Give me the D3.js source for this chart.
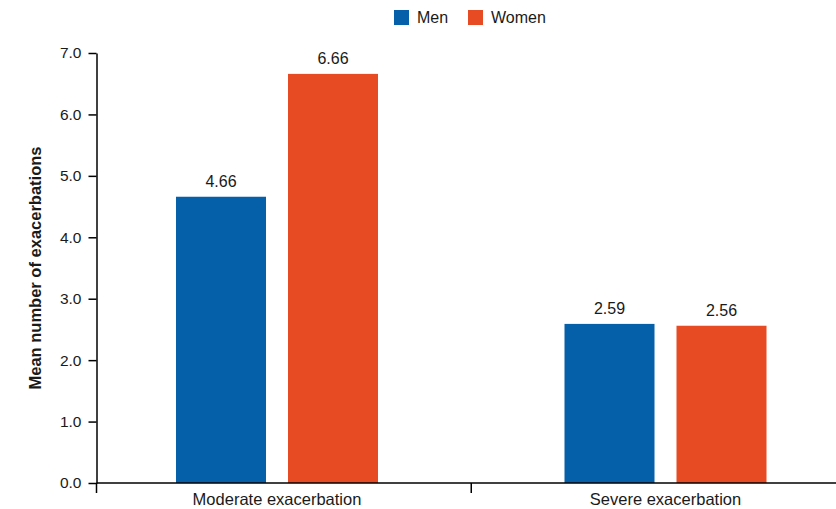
<!DOCTYPE html>
<html>
<head>
<meta charset="utf-8">
<script src="https://cdn.jsdelivr.net/npm/d3@7/dist/d3.min.js"></script>
<style>
  html, body { margin: 0; padding: 0; background: #fff; }
  svg { display: block; font-family: "Liberation Sans", Arial, sans-serif; }
</style>
</head>
<body>
<svg id="chart" width="836" height="509"></svg>
<script>
// Exacerbation categories and mean counts per sex
const categories = ["Moderate exacerbation", "Severe exacerbation"];
const seriesNames = ["Men", "Women"];
const menValues = [4.66, 2.59];
const womenValues = [6.66, 2.56];
const yTicks = [0, 1, 2, 3, 4, 5, 6, 7];
const yTitle = "Mean number of exacerbations";

const colors = { Men: "#0560a9", Women: "#e64b23" };
const values = { Men: menValues, Women: womenValues };

const svg = d3.select("#chart");
const W = 836, H = 509;
const axisX = 96.5;
const y0 = 483, yTop = 53;

const y = d3.scaleLinear().domain([0, 7]).range([y0, yTop]);

// Category bands, centred on each bar group
const x = d3.scaleBand().domain(categories).range([82.75, 859.75]).paddingInner(0).paddingOuter(0);
const groupW = 202;
const x1 = d3.scaleBand().domain(seriesNames)
  .range([(x.bandwidth() - groupW) / 2, (x.bandwidth() + groupW) / 2])
  .paddingInner(22 / 112).paddingOuter(0);

// Bars
const rows = categories.map((c, i) => ({ cat: c, vals: seriesNames.map(s => ({ s, v: values[s][i] })) }));
const g = svg.append("g");
const grp = g.selectAll("g.grp").data(rows).join("g")
  .attr("class", "grp")
  .attr("transform", d => `translate(${x(d.cat)},0)`);
grp.selectAll("rect").data(d => d.vals).join("rect")
  .attr("x", d => x1(d.s))
  .attr("width", x1.bandwidth())
  .attr("y", d => y(d.v))
  .attr("height", d => y0 - y(d.v))
  .attr("fill", d => colors[d.s]);
grp.selectAll("text.val").data(d => d.vals).join("text")
  .attr("class", "val")
  .attr("x", d => x1(d.s) + x1.bandwidth() / 2)
  .attr("y", d => y(d.v) - 10)
  .attr("text-anchor", "middle")
  .attr("font-size", 16)
  .attr("fill", "#1a1a1a")
  .text(d => d.v.toFixed(2));

// Y axis
const yAxis = svg.append("g")
  .attr("transform", `translate(${axisX},0)`)
  .call(d3.axisLeft(y).tickValues(yTicks).tickFormat(d3.format(".1f")).tickSize(8).tickPadding(7).tickSizeOuter(0));
yAxis.select(".domain").attr("stroke", "#000").attr("stroke-width", 1.5);
yAxis.selectAll(".tick line").attr("stroke", "#000").attr("stroke-width", 1.5);
yAxis.selectAll(".tick text").attr("font-size", 15.5).attr("fill", "#1a1a1a").attr("font-family", "Liberation Sans, Arial, sans-serif");

// X axis: baseline plus ticks at the origin and between categories
const xAxis = svg.append("g");
xAxis.append("line")
  .attr("x1", axisX).attr("x2", W)
  .attr("y1", y0).attr("y2", y0)
  .attr("stroke", "#000").attr("stroke-width", 1.5);
const tickXs = [axisX].concat(categories.slice(1).map(c => x(c)));
xAxis.selectAll("line.tk").data(tickXs).join("line")
  .attr("class", "tk")
  .attr("x1", d => d).attr("x2", d => d)
  .attr("y1", y0).attr("y2", y0 + 10)
  .attr("stroke", "#000").attr("stroke-width", 1.5);
xAxis.selectAll("text.cat").data(categories).join("text")
  .attr("class", "cat")
  .attr("x", d => x(d) + x.bandwidth() / 2)
  .attr("y", 505)
  .attr("text-anchor", "middle")
  .attr("font-size", 16.5)
  .attr("fill", "#1a1a1a")
  .text(d => d);

// Y title
svg.append("text")
  .attr("transform", `translate(41,${(y0 + yTop) / 2}) rotate(-90)`)
  .attr("text-anchor", "middle")
  .attr("font-size", 16.5)
  .attr("font-weight", "bold")
  .attr("fill", "#1a1a1a")
  .text(yTitle);

// Legend
const legendX = [394, 468];
const lg = svg.selectAll("g.lg").data(seriesNames).join("g")
  .attr("class", "lg")
  .attr("transform", (d, i) => `translate(${legendX[i]},10)`);
lg.append("rect").attr("width", 15).attr("height", 15).attr("fill", d => colors[d]);
lg.append("text").attr("x", 23).attr("y", 13)
  .attr("font-size", 16).attr("fill", "#1a1a1a").text(d => d);
</script>
</body>
</html>
